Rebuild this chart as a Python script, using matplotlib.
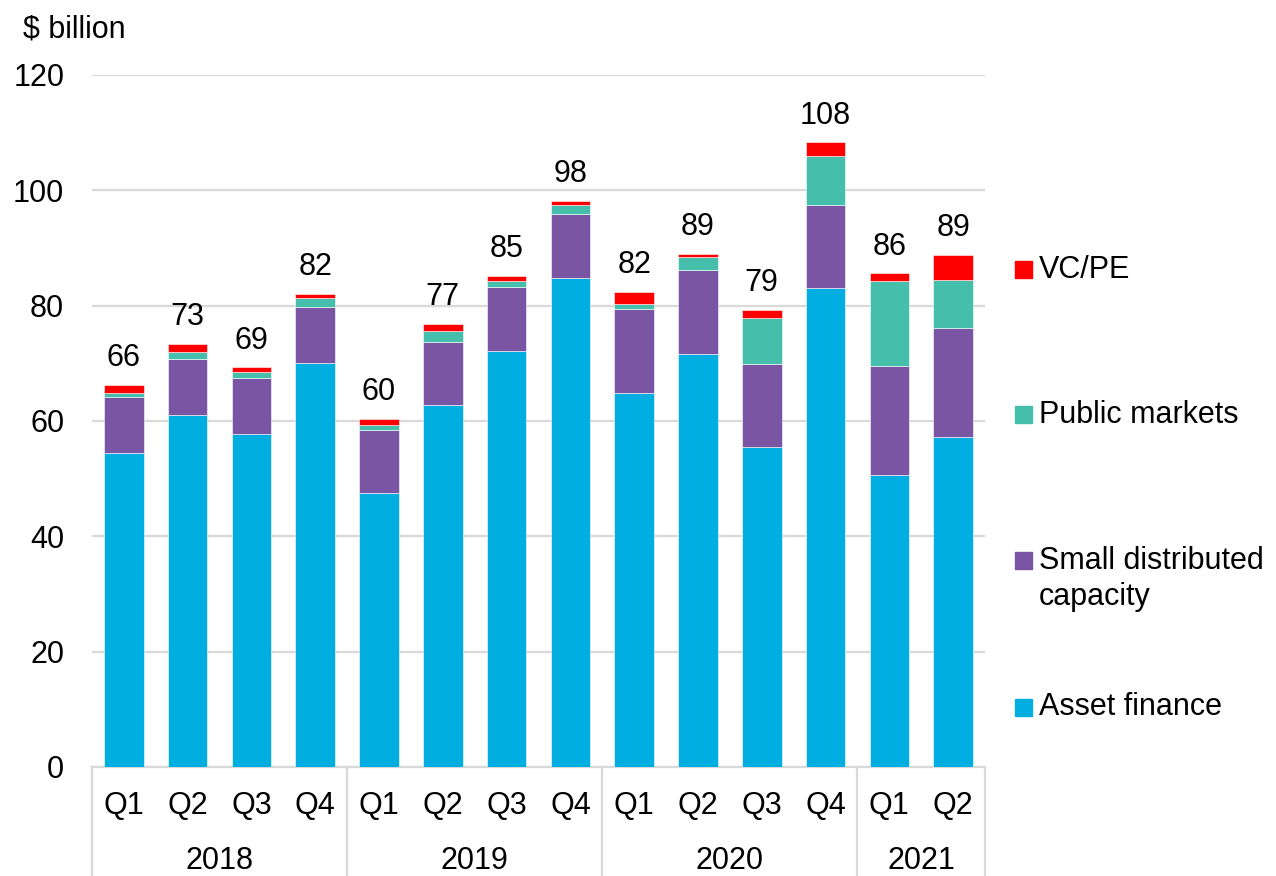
import numpy as np
import matplotlib.pyplot as plt
from matplotlib.patches import Rectangle

plt.rcParams['font.family'] = ['Liberation Sans', 'DejaVu Sans']

# data ($ billion)
quarters = ["Q1", "Q2", "Q3", "Q4", "Q1", "Q2", "Q3", "Q4",
            "Q1", "Q2", "Q3", "Q4", "Q1", "Q2"]
years = ["2018", "2019", "2020", "2021"]
year_sizes = [4, 4, 4, 2]

asset_finance = [54.4, 61.0, 57.7, 70.1, 47.5, 62.8, 72.1, 84.8,
                 64.9, 71.6, 55.5, 83.0, 50.6, 57.2]
small_distributed = [9.8, 9.7, 9.7, 9.7, 10.9, 10.9, 11.1, 11.1,
                     14.6, 14.6, 14.4, 14.5, 19.0, 19.0]
public_markets = [0.6, 1.3, 1.1, 1.6, 0.9, 1.9, 1.0, 1.6,
                  0.8, 2.2, 8.0, 8.4, 14.6, 8.2]
vc_pe = [1.4, 1.3, 0.8, 0.7, 1.0, 1.2, 1.0, 0.7,
         2.1, 0.6, 1.3, 2.4, 1.4, 4.4]
totals = [66, 73, 69, 82, 60, 77, 85, 98, 82, 89, 79, 108, 86, 89]

series = [
    ("Asset finance", asset_finance, "#00AEE2"),
    ("Small distributed\ncapacity", small_distributed, "#7A55A3"),
    ("Public markets", public_markets, "#45BFAC"),
    ("VC/PE", vc_pe, "#FF0000"),
]

FS = 22
W, H = 1276, 876
fig = plt.figure(figsize=(W / 100, H / 100), dpi=100)
ax = fig.add_axes([92 / W, (H - 767) / H, (985 - 92) / W, (767 - 75) / H])

x = np.arange(len(quarters))
bottom = np.zeros(len(quarters))
for name, vals, col in series:
    vals = np.array(vals)
    ax.bar(x, vals, width=0.62, bottom=bottom, color=col,
           edgecolor="white", linewidth=0.4, zorder=3)
    bottom += vals

# total labels above each stack
for xi, top, t in zip(x, bottom, totals):
    ax.annotate(str(t), (xi, top), xytext=(0, 8.5), textcoords="offset points",
                ha="center", va="bottom", fontsize=FS)

ax.set_xlim(-0.5, len(quarters) - 0.5)
ax.set_ylim(0, 120)
ax.set_yticks(np.arange(0, 121, 20))
ax.tick_params(axis="y", length=0, labelsize=FS, pad=20)
ax.set_xticks([])
ax.grid(axis="y", color="#D9D9D9", linewidth=1.6, zorder=0)
for s in ["top", "right", "left"]:
    ax.spines[s].set_visible(False)
ax.spines["bottom"].set_color("#D9D9D9")
ax.spines["bottom"].set_linewidth(1.6)

# two level category axis
trans = ax.get_xaxis_transform()
for xi, q in zip(x, quarters):
    ax.text(xi, -39 / 692, q, transform=trans, ha="center", va="center",
            fontsize=FS)
edges = np.concatenate([[0], np.cumsum(year_sizes)]) - 0.5
for e in edges:
    ax.plot([e, e], [0, -0.16], transform=trans, color="#D9D9D9",
            linewidth=1.6, clip_on=False)
for yr, a, b in zip(years, edges[:-1], edges[1:]):
    ax.text((a + b) / 2, -94 / 692, yr, transform=trans, ha="center",
            va="center", fontsize=FS)

fig.text(23 / W, 1 - 30 / H, "$ billion", fontsize=FS, va="center", ha="left")

# legend on the right, top to bottom
legend_y = [270, 415, 560, 707]
for (name, vals, col), ly in zip(series[::-1], legend_y):
    fig.patches.append(Rectangle((1015 / W, 1 - (ly + 8.5) / H), 17 / W, 17 / H,
                                 transform=fig.transFigure, color=col))
    ty = ly + 19 if "\n" in name else ly
    fig.text(1039 / W, 1 - ty / H, name, fontsize=FS, va="center",
             ha="left", linespacing=1.25)

fig.savefig("out.png", dpi=100)
